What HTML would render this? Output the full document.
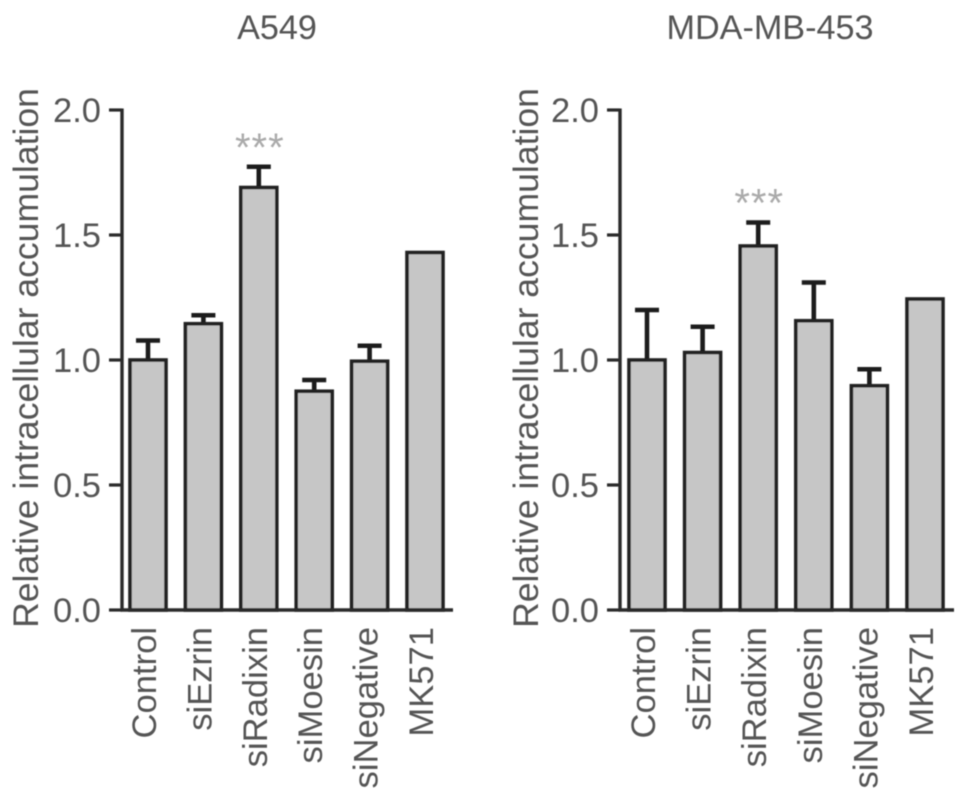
<!DOCTYPE html>
<html>
<head>
<meta charset="utf-8">
<style>
html,body{margin:0;padding:0;background:#fff;width:969px;height:802px;overflow:hidden}
svg{display:block}
text{font-family:"Liberation Sans",sans-serif;fill:#555}
</style>
</head>
<body>
<svg id="chart" width="969" height="802" viewBox="0 0 969 802" xmlns="http://www.w3.org/2000/svg">
<defs><filter id="soft" x="-5%" y="-5%" width="110%" height="110%"><feGaussianBlur stdDeviation="0.6"/></filter></defs>
<g id="root" filter="url(#soft)"></g>
</svg>
<script>
const categories = ["Control","siEzrin","siRadixin","siMoesin","siNegative","MK571"];
const yTicks = ["0.0","0.5","1.0","1.5","2.0"];
const a549Values = [1.0,1.145,1.69,0.875,0.995,1.43];
const a549Errors = [0.078,0.034,0.083,0.045,0.062,0];
const mdaValues = [1.0,1.03,1.456,1.157,0.897,1.244];
const mdaErrors = [0.20,0.103,0.094,0.153,0.066,0];
const a549Title = "A549";
const mdaTitle = "MDA-MB-453";
const yTitle = "Relative intracellular accumulation";
const sigIndex = 2;

const NS = "http://www.w3.org/2000/svg";
const root = document.getElementById("root");
const yTop = 110, yBase = 610, yMax = 2;
const yScale = v => yBase - (v / yMax) * (yBase - yTop);

function make(tag, attrs, parent, text) {
  const el = document.createElementNS(NS, tag);
  for (const k in attrs) el.setAttribute(k, attrs[k]);
  if (text !== undefined) el.textContent = text;
  parent.appendChild(el);
  return el;
}
function drawPanel(name, axisX, firstCenter, step, baseEnd, titleX, titleText, yTitleX, values, errors) {
  const xScale = i => firstCenter + step * i;
  const g = make("g", {}, root);
  
  

  const title = make("text", {x: titleX, y: 39, "text-anchor": "middle", "font-size": 34.2}, g, titleText);
  
  

  const yt = make("text", {transform: `translate(${yTitleX},358) rotate(-90)`, "text-anchor": "middle", "font-size": 35.6}, g, yTitle);
  
  

  values.forEach((v, i) => {
    const cx = xScale(i), top = yScale(v), halfW = 18;
    if (errors[i] > 0) {
      const et = yScale(v + errors[i]);
      const eb = make("path", {d: `M${cx} ${top}V${et}M${cx - 12} ${et}H${cx + 12}`, stroke: "#1c1c1c", "stroke-width": 4.6, fill: "none"}, g);
      
      
    }
    const bar = make("rect", {x: cx - halfW, y: top, width: halfW * 2, height: yBase - top, fill: "#c6c6c6", stroke: "#222", "stroke-width": 3.6}, g);
    
    

    const lab = make("text", {transform: `translate(${cx + 8},627) rotate(-90)`, "text-anchor": "end", "font-size": 34.6}, g, categories[i]);
    
    

    if (i === sigIndex) {
      const star = make("text", {x: cx + 1, y: yScale(v + errors[i]) - 6, "text-anchor": "middle", "font-size": 40, "letter-spacing": 1, style: "fill:#aaa"}, g, "***");
      
      
    }
  });

  const axis = make("path", {d: `M${axisX} ${yTop - 1.5}V${yBase + 1.5}M${axisX - 1.5} ${yBase}H${baseEnd}`, stroke: "#2a2a2a", "stroke-width": 3.4, fill: "none"}, g);
  
  

  yTicks.forEach(t => {
    const y = yScale(parseFloat(t));
    const tick = make("line", {x1: axisX - 13, x2: axisX, y1: y, y2: y, stroke: "#2a2a2a", "stroke-width": 3.2}, g);
    
    
    const lab = make("text", {x: axisX - 21, y: y + 12, "text-anchor": "end", "font-size": 34.5}, g, t);
    
    
  });
}
drawPanel("a549", 122, 148, 55.4, 453, 277, a549Title, 38, a549Values, a549Errors);
drawPanel("mda-mb-453", 620, 647, 55.6, 954, 770, mdaTitle, 538, mdaValues, mdaErrors);
</script>
</body>
</html>
